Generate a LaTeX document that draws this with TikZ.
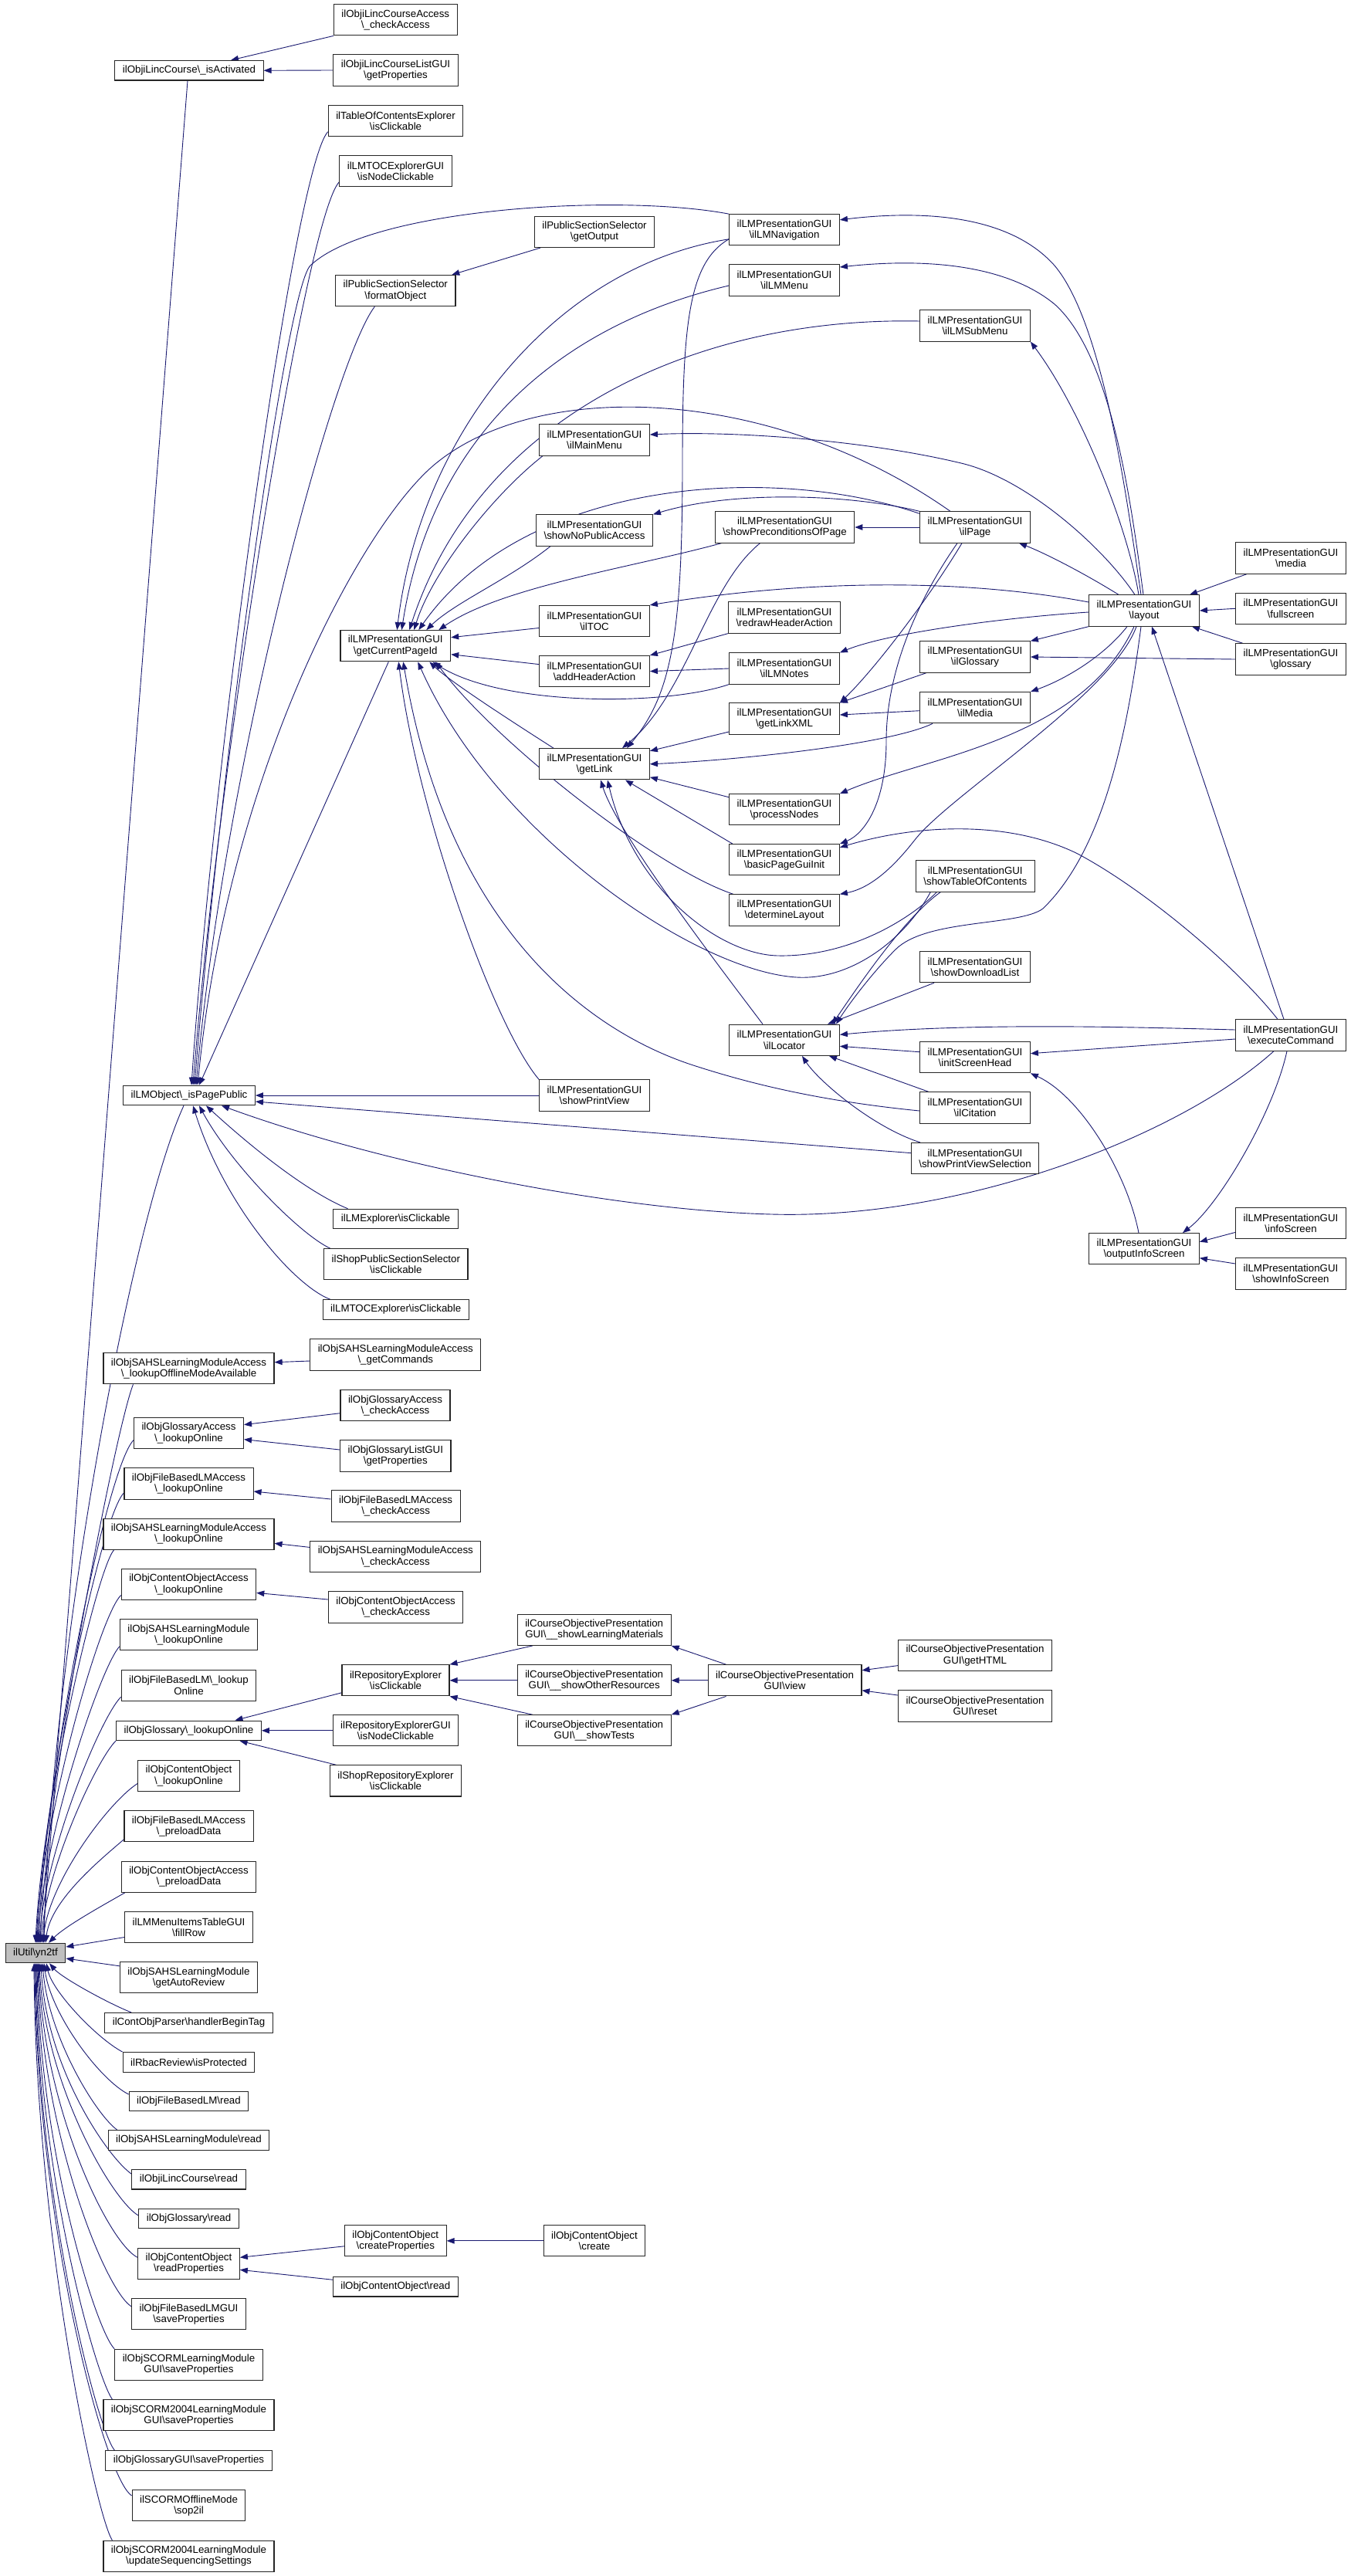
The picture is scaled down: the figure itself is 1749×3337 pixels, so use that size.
\documentclass[tikz,border=0pt]{standalone}
\usepackage{fontspec}
\setmainfont{Liberation Sans}
\usetikzlibrary{arrows.meta}
\newcommand{\bsl}{\textbackslash}
\newcommand{\fnt}{\fontsize{13.3}{14.3}\selectfont}
\definecolor{edgeblue}{RGB}{25,25,112}
\pgfdeclarelayer{bg}
\pgfsetlayers{bg,main}
\begin{document}
\begin{tikzpicture}[x=1pt,y=-1pt,
  fn/.style={draw=black!85,line width=1.1pt,fill=white,inner xsep=10pt,inner ysep=0pt,align=center,font=\fnt},
  fnone/.style={fn,minimum height=25.5pt},
  fntwo/.style={fn,minimum height=40.2pt},
  fnroot/.style={fnone,fill=black!25},
  edg/.style={draw=edgeblue,line width=0.9pt,-{Triangle[length=10pt,width=7.5pt]}}]
\useasboundingbox (0,0) rectangle (1749,3337);
% ---------- column 1
\node[fnroot] (ilUtil) at (46,2530) {ilUtil\bsl yn2tf};
% ---------- column 2
\node[fnone] (isActivated) at (245,91.3) {ilObjiLincCourse\bsl\_isActivated};
\node[fnone] (isPagePublic) at (245,1419) {ilLMObject\bsl\_isPagePublic};
\node[fntwo] (sahsOffline) at (244.5,1772.7) {ilObjSAHSLearningModuleAccess\\\bsl\_lookupOfflineModeAvailable};
\node[fntwo] (glosAccLookup) at (244.5,1856.6) {ilObjGlossaryAccess\\\bsl\_lookupOnline};
\node[fntwo] (fblmAccLookup) at (244.5,1922) {ilObjFileBasedLMAccess\\\bsl\_lookupOnline};
\node[fntwo] (sahsAccLookup) at (244.5,1987.3) {ilObjSAHSLearningModuleAccess\\\bsl\_lookupOnline};
\node[fntwo] (coAccLookup) at (244.5,2052.4) {ilObjContentObjectAccess\\\bsl\_lookupOnline};
\node[fntwo] (sahsLookup) at (244.5,2117.8) {ilObjSAHSLearningModule\\\bsl\_lookupOnline};
\node[fntwo] (fblmLookup) at (244.5,2183.2) {ilObjFileBasedLM\bsl\_lookup\\Online};
\node[fnone] (glosLookup) at (244.5,2241.8) {ilObjGlossary\bsl\_lookupOnline};
\node[fntwo] (coLookup) at (244.5,2300.4) {ilObjContentObject\\\bsl\_lookupOnline};
\node[fntwo] (fblmAccPreload) at (244.5,2365.8) {ilObjFileBasedLMAccess\\\bsl\_preloadData};
\node[fntwo] (coAccPreload) at (244.5,2431.2) {ilObjContentObjectAccess\\\bsl\_preloadData};
\node[fntwo] (fillRow) at (244.5,2496.5) {ilLMMenuItemsTableGUI\\\bsl fillRow};
\node[fntwo] (getAutoReview) at (244.5,2561.8) {ilObjSAHSLearningModule\\\bsl getAutoReview};
\node[fnone] (handlerBeginTag) at (244.5,2620.3) {ilContObjParser\bsl handlerBeginTag};
\node[fnone] (isProtected) at (244.5,2671.3) {ilRbacReview\bsl isProtected};
\node[fnone] (fblmRead) at (244.5,2722) {ilObjFileBasedLM\bsl read};
\node[fnone] (sahsRead) at (244.5,2772.3) {ilObjSAHSLearningModule\bsl read};
\node[fnone] (iLincRead) at (244.5,2823.2) {ilObjiLincCourse\bsl read};
\node[fnone] (glosRead) at (244.5,2874) {ilObjGlossary\bsl read};
\node[fntwo] (readProperties) at (244.5,2932.3) {ilObjContentObject\\\bsl readProperties};
\node[fntwo] (fblmGuiSave) at (244.5,2997.8) {ilObjFileBasedLMGUI\\\bsl saveProperties};
\node[fntwo] (scormGuiSave) at (244.5,3063.3) {ilObjSCORMLearningModule\\GUI\bsl saveProperties};
\node[fntwo] (scorm2004GuiSave) at (244.5,3128.7) {ilObjSCORM2004LearningModule\\GUI\bsl saveProperties};
\node[fnone] (glosGuiSave) at (244.5,3187.5) {ilObjGlossaryGUI\bsl saveProperties};
\node[fntwo] (sop2il) at (244.5,3245.8) {ilSCORMOfflineMode\\\bsl sop2il};
\node[fntwo] (updateSeq) at (244.5,3311.3) {ilObjSCORM2004LearningModule\\\bsl updateSequencingSettings};
% ---------- column 3
\node[fntwo] (iLincAccessCheck) at (512.3,25.8) {ilObjiLincCourseAccess\\\bsl\_checkAccess};
\node[fntwo] (iLincListGetProps) at (512.5,91) {ilObjiLincCourseListGUI\\\bsl getProperties};
\node[fntwo] (tocExplClick) at (512.5,156.7) {ilTableOfContentsExplorer\\\bsl isClickable};
\node[fntwo] (lmtocGuiNodeClick) at (512.5,221.8) {ilLMTOCExplorerGUI\\\bsl isNodeClickable};
\node[fntwo] (pssFormat) at (512.3,376.6) {ilPublicSectionSelector\\\bsl formatObject};
\node[fntwo] (gcp) at (512.3,836.7) {ilLMPresentationGUI\\\bsl getCurrentPageId};
\node[fnone] (lmExplClick) at (512.5,1579) {ilLMExplorer\bsl isClickable};
\node[fntwo] (shopPssClick) at (512.8,1637.8) {ilShopPublicSectionSelector\\\bsl isClickable};
\node[fnone] (lmtocExplClick) at (512.7,1696.5) {ilLMTOCExplorer\bsl isClickable};
\node[fntwo] (sahsGetCommands) at (512.3,1755) {ilObjSAHSLearningModuleAccess\\\bsl\_getCommands};
\node[fntwo] (glosAccCheck) at (512,1820.7) {ilObjGlossaryAccess\\\bsl\_checkAccess};
\node[fntwo] (glosListProps) at (512.3,1886) {ilObjGlossaryListGUI\\\bsl getProperties};
\node[fntwo] (fblmAccCheck) at (512.6,1951) {ilObjFileBasedLMAccess\\\bsl\_checkAccess};
\node[fntwo] (sahsAccCheck) at (512.3,2016.4) {ilObjSAHSLearningModuleAccess\\\bsl\_checkAccess};
\node[fntwo] (coAccCheck) at (512.6,2082) {ilObjContentObjectAccess\\\bsl\_checkAccess};
\node[fntwo] (repExplClick) at (512.5,2176.8) {ilRepositoryExplorer\\\bsl isClickable};
\node[fntwo] (repExplGuiClick) at (512.5,2241.8) {ilRepositoryExplorerGUI\\\bsl isNodeClickable};
\node[fntwo] (shopRepClick) at (512.5,2306.9) {ilShopRepositoryExplorer\\\bsl isClickable};
\node[fntwo] (coCreateProps) at (512.3,2902.8) {ilObjContentObject\\\bsl createProperties};
\node[fnone] (coRead) at (512.3,2962.2) {ilObjContentObject\bsl read};
% ---------- column 4
\node[fntwo] (pssGetOutput) at (770,300.4) {ilPublicSectionSelector\\\bsl getOutput};
\node[fntwo] (mainMenu) at (770,570) {ilLMPresentationGUI\\\bsl ilMainMenu};
\node[fntwo] (showNoPublicAccess) at (770,687) {ilLMPresentationGUI\\\bsl showNoPublicAccess};
\node[fntwo] (ilTOC) at (770,804.5) {ilLMPresentationGUI\\\bsl ilTOC};
\node[fntwo] (addHeaderAction) at (770,869.6) {ilLMPresentationGUI\\\bsl addHeaderAction};
\node[fntwo] (getLink) at (770,989.8) {ilLMPresentationGUI\\\bsl getLink};
\node[fntwo] (showPrintView) at (770,1419) {ilLMPresentationGUI\\\bsl showPrintView};
\node[fntwo] (copShowLM) at (769.7,2111.3) {ilCourseObjectivePresentation\\GUI\bsl\_\_showLearningMaterials};
\node[fntwo] (copShowOther) at (769.7,2176.8) {ilCourseObjectivePresentation\\GUI\bsl\_\_showOtherResources};
\node[fntwo] (copShowTests) at (769.7,2241.8) {ilCourseObjectivePresentation\\GUI\bsl\_\_showTests};
\node[fntwo] (coCreate) at (770,2902.8) {ilObjContentObject\\\bsl create};
% ---------- column 5
\node[fntwo] (lmNavigation) at (1016,297.8) {ilLMPresentationGUI\\\bsl ilLMNavigation};
\node[fntwo] (lmMenu) at (1016,363) {ilLMPresentationGUI\\\bsl ilLMMenu};
\node[fntwo] (showPrecond) at (1016.5,683) {ilLMPresentationGUI\\\bsl showPreconditionsOfPage};
\node[fntwo] (redrawHeader) at (1016,800) {ilLMPresentationGUI\\\bsl redrawHeaderAction};
\node[fntwo] (lmNotes) at (1016,866) {ilLMPresentationGUI\\\bsl ilLMNotes};
\node[fntwo] (getLinkXML) at (1016,931) {ilLMPresentationGUI\\\bsl getLinkXML};
\node[fntwo] (processNodes) at (1016,1048.7) {ilLMPresentationGUI\\\bsl processNodes};
\node[fntwo] (basicPageGuiInit) at (1016,1113.8) {ilLMPresentationGUI\\\bsl basicPageGuiInit};
\node[fntwo] (determineLayout) at (1016,1179) {ilLMPresentationGUI\\\bsl determineLayout};
\node[fntwo] (ilLocator) at (1016,1347.3) {ilLMPresentationGUI\\\bsl ilLocator};
\node[fntwo] (copView) at (1016.5,2176.8) {ilCourseObjectivePresentation\\GUI\bsl view};
% ---------- column 6
\node[fntwo] (lmSubMenu) at (1263,422) {ilLMPresentationGUI\\\bsl ilLMSubMenu};
\node[fntwo] (ilPage) at (1263,683) {ilLMPresentationGUI\\\bsl ilPage};
\node[fntwo] (ilGlossary) at (1263,851) {ilLMPresentationGUI\\\bsl ilGlossary};
\node[fntwo] (ilMedia) at (1263,916.7) {ilLMPresentationGUI\\\bsl ilMedia};
\node[fntwo] (showTOC) at (1263.3,1135) {ilLMPresentationGUI\\\bsl showTableOfContents};
\node[fntwo] (showDownloadList) at (1263,1252.6) {ilLMPresentationGUI\\\bsl showDownloadList};
\node[fntwo] (initScreenHead) at (1263,1369.7) {ilLMPresentationGUI\\\bsl initScreenHead};
\node[fntwo] (ilCitation) at (1263,1435) {ilLMPresentationGUI\\\bsl ilCitation};
\node[fntwo] (showPrintViewSel) at (1263,1500.6) {ilLMPresentationGUI\\\bsl showPrintViewSelection};
\node[fntwo] (copGetHTML) at (1263,2144.6) {ilCourseObjectivePresentation\\GUI\bsl getHTML};
\node[fntwo] (copReset) at (1263,2210) {ilCourseObjectivePresentation\\GUI\bsl reset};
% ---------- column 7
\node[fntwo] (layout) at (1482,791) {ilLMPresentationGUI\\\bsl layout};
\node[fntwo] (outputInfoScreen) at (1482,1617.7) {ilLMPresentationGUI\\\bsl outputInfoScreen};
% ---------- column 8
\node[fntwo] (media) at (1672,723) {ilLMPresentationGUI\\\bsl media};
\node[fntwo] (fullscreen) at (1672,788.3) {ilLMPresentationGUI\\\bsl fullscreen};
\node[fntwo] (glossary) at (1672,854) {ilLMPresentationGUI\\\bsl glossary};
\node[fntwo] (executeCommand) at (1672,1341) {ilLMPresentationGUI\\\bsl executeCommand};
\node[fntwo] (infoScreen) at (1672,1584.4) {ilLMPresentationGUI\\\bsl infoScreen};
\node[fntwo] (showInfoScreen) at (1672,1650) {ilLMPresentationGUI\\\bsl showInfoScreen};

\begin{pgfonlayer}{bg}
\fill[white] (0,0) rectangle (1749,3337);
% ---- callers of ilUtil (from above)
\draw[edg] ([xshift=-2pt]isActivated.south) -- ([xshift=9pt]ilUtil.north);
\draw[edg] ([xshift=-7pt]isPagePublic.south) .. controls (170,1580) and (65,2150) .. ([xshift=11pt]ilUtil.north);
\draw[edg] ([xshift=-72pt]sahsOffline.south) .. controls (150,1850) and (62,2300) .. ([xshift=6pt]ilUtil.north);
\draw[edg] ([yshift=-9pt]glosAccLookup.west) .. controls (138,1901) and (58,2300) .. ([xshift=4pt]ilUtil.north);
\draw[edg] ([yshift=-12pt]fblmAccLookup.west) .. controls (130,1965) and (56,2320) .. ([xshift=2pt]ilUtil.north);
\draw[edg] ([xshift=14pt]sahsAccLookup.south west) .. controls (125,2035) and (54,2340) .. (ilUtil.north);
\draw[edg] ([yshift=-14pt]coAccLookup.west) .. controls (128,2095) and (54,2360) .. ([xshift=1pt]ilUtil.north);
\draw[edg] ([yshift=-15pt]sahsLookup.west) .. controls (130,2160) and (56,2380) .. ([xshift=3pt]ilUtil.north);
\draw[edg] ([yshift=-15pt]fblmLookup.west) .. controls (130,2225) and (58,2400) .. ([xshift=5pt]ilUtil.north);
\draw[edg] (glosLookup.south west) .. controls (125,2280) and (60,2420) .. ([xshift=7pt]ilUtil.north);
\draw[edg] ([yshift=-10pt]coLookup.west) .. controls (140,2335) and (62,2440) .. ([xshift=10pt]ilUtil.north);
\draw[edg] ([yshift=-17pt]fblmAccPreload.west) .. controls (135,2405) and (66,2460) .. ([xshift=13pt]ilUtil.north);
\draw[edg] ([xshift=5pt]coAccPreload.south west) .. controls (130,2470) and (85,2495) .. ([xshift=17pt]ilUtil.north);
\draw[edg] ([yshift=-13pt]fillRow.west) -- ([yshift=8pt]ilUtil.east);
% ---- callers of ilUtil (from below)
\draw[edg] ([yshift=15pt]getAutoReview.west) -- ([yshift=-7pt]ilUtil.east);
\draw[edg] ([xshift=35pt]handlerBeginTag.north west) .. controls (140,2595) and (80,2562) .. ([xshift=18pt]ilUtil.south);
\draw[edg] (isProtected.north west) .. controls (125,2640) and (68,2580) .. ([xshift=14pt]ilUtil.south);
\draw[edg] ([yshift=9pt]fblmRead.west) .. controls (130,2695) and (66,2610) .. ([xshift=11pt]ilUtil.south);
\draw[edg] ([xshift=12pt]sahsRead.north west) .. controls (125,2740) and (63,2640) .. ([xshift=9pt]ilUtil.south);
\draw[edg] ([yshift=7pt]iLincRead.west) .. controls (140,2795) and (60,2680) .. ([xshift=7pt]ilUtil.south);
\draw[edg] ([yshift=4pt]glosRead.west) .. controls (145,2850) and (58,2700) .. ([xshift=5pt]ilUtil.south);
\draw[edg] ([yshift=8pt]readProperties.west) .. controls (140,2905) and (56,2730) .. ([xshift=4pt]ilUtil.south);
\draw[edg] ([yshift=10pt]fblmGuiSave.west) .. controls (135,2965) and (54,2760) .. ([xshift=3pt]ilUtil.south);
\draw[edg] (scormGuiSave.north west) .. controls (125,3020) and (52,2790) .. ([xshift=2pt]ilUtil.south);
\draw[edg] ([xshift=12pt]scorm2004GuiSave.north west) .. controls (125,3080) and (50,2820) .. ([xshift=1pt]ilUtil.south);
\draw[edg] ([xshift=12pt]glosGuiSave.north west) .. controls (125,3145) and (49,2850) .. (ilUtil.south);
\draw[edg] ([yshift=13pt]sop2il.west) .. controls (135,3210) and (48,2880) .. ([xshift=-1pt]ilUtil.south);
\draw[edg] ([xshift=12pt]updateSeq.north west) .. controls (125,3260) and (47,2900) .. ([xshift=-2pt]ilUtil.south);
% ---- isActivated
\draw[edg] (iLincAccessCheck.south west) -- ([xshift=54pt]isActivated.north);
\draw[edg] (iLincListGetProps.west) -- (isActivated.east);
% ---- isPagePublic
\draw[edg] ([yshift=-14pt]tocExplClick.west) .. controls (380,220) and (275,1000) .. ([xshift=3pt]isPagePublic.north);
\draw[edg] ([yshift=-14pt]lmtocGuiNodeClick.west) .. controls (395,285) and (282,1000) .. ([xshift=5pt]isPagePublic.north);
\draw[edg] (lmNavigation.north west) .. controls (800,250) and (480,270) .. (402,344) .. controls (370,376) and (285,1000) .. ([xshift=7pt]isPagePublic.north);
\draw[edg] ([xshift=-70pt]pssGetOutput.south) -- ([xshift=73pt]pssFormat.north);
\draw[edg] ([xshift=-27pt]pssFormat.south) .. controls (430,470) and (290,1000) .. ([xshift=9pt]isPagePublic.north);
\draw[edg] ([xshift=-9pt]gcp.south) -- ([xshift=13pt]isPagePublic.north);
\draw[edg] ([xshift=-32pt]ilPage.north) .. controls (1000,500) and (700,490) .. (565,600) .. controls (470,677) and (295,1000) .. ([xshift=11pt]isPagePublic.north);
\draw[edg] ([yshift=7pt]showPrintViewSel.west) -- ([yshift=-8pt]isPagePublic.east);
\draw[edg] (showPrintView.west) -- (isPagePublic.east);
\draw[edg] ([xshift=-22pt]executeCommand.south) .. controls (1530,1470) and (1250,1580) .. (1000,1573) .. controls (800,1568) and (500,1510) .. ([xshift=42pt]isPagePublic.south);
\draw[edg] ([xshift=-62pt]lmExplClick.north) .. controls (400,1545) and (330,1490) .. ([xshift=22pt]isPagePublic.south);
\draw[edg] ([xshift=-85pt]shopPssClick.north) .. controls (390,1600) and (300,1510) .. ([xshift=13pt]isPagePublic.south);
\draw[edg] ([xshift=-85pt]lmtocExplClick.north) .. controls (380,1665) and (290,1560) .. ([xshift=5pt]isPagePublic.south);
% ---- getCurrentPageId
\draw[edg] ([yshift=-12pt]lmNavigation.west) .. controls (720,345) and (545,560) .. ([xshift=2pt]gcp.north);
\draw[edg] ([yshift=-7pt]lmMenu.west) .. controls (730,420) and (560,560) .. ([xshift=8pt]gcp.north);
\draw[edg] ([yshift=6pt]lmSubMenu.west) .. controls (900,410) and (620,540) .. ([xshift=18pt]gcp.north);
\draw[edg] ([xshift=-67pt]mainMenu.south) .. controls (640,640) and (560,740) .. ([xshift=24pt]gcp.north);
\draw[edg] ([yshift=-3pt]ilPage.north west) .. controls (1000,600) and (680,620) .. ([xshift=30pt]gcp.north);
\draw[edg] ([xshift=-57pt]showNoPublicAccess.south) .. controls (660,750) and (590,780) .. ([xshift=40pt]gcp.north);
\draw[edg] ([xshift=-82pt]showPrecond.south) .. controls (820,735) and (650,760) .. ([xshift=56pt]gcp.north);
\draw[edg] ([yshift=-9pt]ilTOC.west) -- ([yshift=11pt]gcp.east);
\draw[edg] ([yshift=9pt]addHeaderAction.west) -- ([yshift=-11pt]gcp.east);
\draw[edg] ([xshift=-53pt]getLink.north) .. controls (640,920) and (580,880) .. ([xshift=44pt]gcp.south);
\draw[edg] (lmNotes.south west) .. controls (860,915) and (650,915) .. ([xshift=48pt]gcp.south);
\draw[edg] ([xshift=-66pt]determineLayout.north) .. controls (850,1125) and (640,960) .. ([xshift=52pt]gcp.south);
\draw[edg] ([xshift=-58pt]showTOC.south) .. controls (1170,1220) and (1100,1270) .. (1032,1266) .. controls (900,1258) and (640,1080) .. ([xshift=29pt]gcp.south);
\draw[edg] ([yshift=-4pt]ilCitation.west) .. controls (1050,1425) and (960,1400) .. (898,1380) .. controls (760,1335) and (580,1200) .. ([xshift=10pt]gcp.south);
\draw[edg] (showPrintView.north west) .. controls (640,1330) and (540,1050) .. ([xshift=4pt]gcp.south);
% ---- getLink
\draw[edg] ([yshift=-12pt]lmNavigation.west) .. controls (892,340) and (884,420) .. (884,600) .. controls (884,820) and (870,900) .. ([xshift=42pt]getLink.north);
\draw[edg] ([xshift=-32pt]showPrecond.south) .. controls (915,760) and (890,900) .. ([xshift=36pt]getLink.north);
\draw[edg] ([yshift=-17pt]getLinkXML.west) -- ([yshift=17pt]getLink.east);
\draw[edg] ([xshift=-55pt]ilMedia.south) .. controls (1150,965) and (950,985) .. (getLink.east);
\draw[edg] ([yshift=16pt]processNodes.west) -- ([yshift=-17pt]getLink.east);
\draw[edg] ([xshift=-67pt]basicPageGuiInit.north) -- ([xshift=40pt]getLink.south);
\draw[edg] ([xshift=-28pt]ilLocator.north) .. controls (930,1250) and (800,1080) .. ([xshift=8pt]getLink.south);
\draw[edg] ([xshift=-50pt]showTOC.south) .. controls (1180,1190) and (1100,1240) .. (1007,1238) .. controls (930,1236) and (820,1150) .. ([xshift=17pt]getLink.south);
% ---- ilLocator
\draw[edg] ([xshift=-45pt]showTOC.south) .. controls (1170,1190) and (1110,1280) .. ([xshift=62pt]ilLocator.north);
\draw[edg] ([xshift=-53pt]showDownloadList.south) -- ([xshift=56pt]ilLocator.north);
\draw[edg] ([yshift=7pt]executeCommand.west) .. controls (1450,1330) and (1250,1325) .. ([yshift=7pt]ilLocator.east);
\draw[edg] ([yshift=7pt]initScreenHead.west) -- ([yshift=-8pt]ilLocator.east);
\draw[edg] ([xshift=-60pt]ilCitation.north) -- ([xshift=58pt]ilLocator.south);
\draw[edg] ([xshift=-71pt]showPrintViewSel.north) .. controls (1130,1460) and (1060,1400) .. ([xshift=23pt]ilLocator.south);
\draw[edg] ([yshift=-5pt]executeCommand.west) -- ([yshift=5pt]initScreenHead.east);
% ---- layout
\draw[edg] ([xshift=-12pt]layout.north) .. controls (1430,710) and (1330,620) .. (1245,600) .. controls (1120,570) and (950,558) .. ([yshift=7pt]mainMenu.east);
\draw[edg] ([xshift=-4pt]layout.north) .. controls (1460,650) and (1430,420) .. (1366,344) .. controls (1300,270) and (1170,275) .. ([yshift=13pt]lmNavigation.east);
\draw[edg] ([xshift=-1pt]layout.north) .. controls (1465,650) and (1440,460) .. (1366,394) .. controls (1300,340) and (1190,335) .. ([yshift=17pt]lmMenu.east);
\draw[edg] ([xshift=-7pt]layout.north) .. controls (1460,680) and (1400,530) .. (lmSubMenu.south east);
\draw[edg] ([xshift=-33pt]layout.north) .. controls (1400,740) and (1350,715) .. ([xshift=57pt]ilPage.south);
\draw[edg] ([yshift=11pt]layout.west) .. controls (1250,750) and (1050,750) .. (ilTOC.north east);
\draw[edg] ([yshift=-2pt]layout.west) .. controls (1300,800) and (1150,820) .. (lmNotes.north east);
\draw[edg] (layout.south west) -- (ilGlossary.north east);
\draw[edg] ([xshift=-22pt]layout.south) .. controls (1430,850) and (1380,880) .. (ilMedia.north east);
\draw[edg] ([xshift=-13pt]layout.south) .. controls (1400,960) and (1200,980) .. (processNodes.north east);
\draw[edg] ([xshift=-10pt]layout.south) .. controls (1440,900) and (1230,1030) .. (1185,1088) .. controls (1160,1120) and (1130,1150) .. (determineLayout.north east);
\draw[edg] ([xshift=-4pt]layout.south) .. controls (1460,950) and (1430,1100) .. (1351,1177) .. controls (1320,1200) and (1200,1190) .. (1160,1230) .. controls (1130,1260) and (1100,1300) .. ([xshift=67pt]ilLocator.north);
\draw[edg] ([xshift=-9pt]executeCommand.north) -- ([xshift=10pt]layout.south);
\draw[edg] ([xshift=-57pt]media.south) -- ([xshift=59pt]layout.north);
\draw[edg] (fullscreen.west) -- (layout.east);
\draw[edg] ([xshift=-62pt]glossary.north) -- ([xshift=62pt]layout.south);
\draw[edg] (glossary.west) -- (ilGlossary.east);
% ---- ilPage and others
\draw[edg] (ilPage.west) -- (showPrecond.east);
\draw[edg] (ilPage.north west) .. controls (1100,640) and (950,635) .. (showNoPublicAccess.north east);
\draw[edg] ([xshift=-17pt]ilPage.south) .. controls (1200,780) and (1130,870) .. (getLinkXML.north east);
\draw[edg] ([xshift=-23pt]ilPage.south) .. controls (1180,790) and (1148,880) .. (1148,960) .. controls (1148,1040) and (1120,1080) .. (basicPageGuiInit.north east);
\draw[edg] ([xshift=-17pt]executeCommand.north) .. controls (1600,1250) and (1480,1150) .. (1394,1105) .. controls (1300,1060) and (1180,1070) .. ([yshift=16pt]basicPageGuiInit.east);
\draw[edg] ([xshift=-63pt]ilGlossary.south) -- (getLinkXML.north east);
\draw[edg] ([yshift=-4pt]ilMedia.west) -- ([yshift=5pt]getLinkXML.east);
\draw[edg] (redrawHeader.south west) -- (addHeaderAction.north east);
\draw[edg] (lmNotes.west) -- (addHeaderAction.east);
\draw[edg] ([xshift=-7pt]outputInfoScreen.north) .. controls (1460,1520) and (1400,1420) .. (initScreenHead.south east);
\draw[edg] ([xshift=-5pt]executeCommand.south) .. controls (1650,1440) and (1580,1560) .. ([xshift=50pt]outputInfoScreen.north);
\draw[edg] ([yshift=-12pt]infoScreen.west) -- ([yshift=9pt]outputInfoScreen.east);
\draw[edg] ([yshift=13pt]showInfoScreen.west) -- ([yshift=-12pt]outputInfoScreen.east);
% ---- lower left clusters
\draw[edg] ([yshift=-8pt]sahsGetCommands.west) -- ([yshift=8pt]sahsOffline.east);
\draw[edg] ([yshift=-10pt]glosAccCheck.west) -- ([yshift=11pt]glosAccLookup.east);
\draw[edg] ([yshift=8pt]glosListProps.west) -- ([yshift=-8pt]glosAccLookup.east);
\draw[edg] ([yshift=9pt]fblmAccCheck.west) -- ([yshift=-10pt]fblmAccLookup.east);
\draw[edg] ([yshift=12pt]sahsAccCheck.west) -- ([yshift=-12pt]sahsAccLookup.east);
\draw[edg] ([yshift=10pt]coAccCheck.west) -- ([yshift=-11pt]coAccLookup.east);
\draw[edg] ([yshift=-16pt]repExplClick.west) -- ([xshift=60pt]glosLookup.north);
\draw[edg] (repExplGuiClick.west) -- (glosLookup.east);
\draw[edg] ([xshift=-77pt]shopRepClick.north) -- ([xshift=66pt]glosLookup.south);
\draw[edg] ([xshift=-80pt]copShowLM.south) -- (repExplClick.north east);
\draw[edg] (copShowOther.west) -- (repExplClick.east);
\draw[edg] ([xshift=-80pt]copShowTests.north) -- (repExplClick.south east);
\draw[edg] ([xshift=-76pt]copView.north) -- (copShowLM.south east);
\draw[edg] (copView.west) -- (copShowOther.east);
\draw[edg] ([xshift=-76pt]copView.south) -- (copShowTests.north east);
\draw[edg] ([yshift=-13pt]copGetHTML.west) -- ([yshift=13pt]copView.east);
\draw[edg] ([yshift=14pt]copReset.west) -- ([yshift=-13pt]copView.east);
\draw[edg] ([yshift=-7pt]coCreateProps.west) -- ([yshift=8pt]readProperties.east);
\draw[edg] ([yshift=9pt]coRead.west) -- ([yshift=-8pt]readProperties.east);
\draw[edg] (coCreate.west) -- (coCreateProps.east);
\end{pgfonlayer}
\end{tikzpicture}
\end{document}
